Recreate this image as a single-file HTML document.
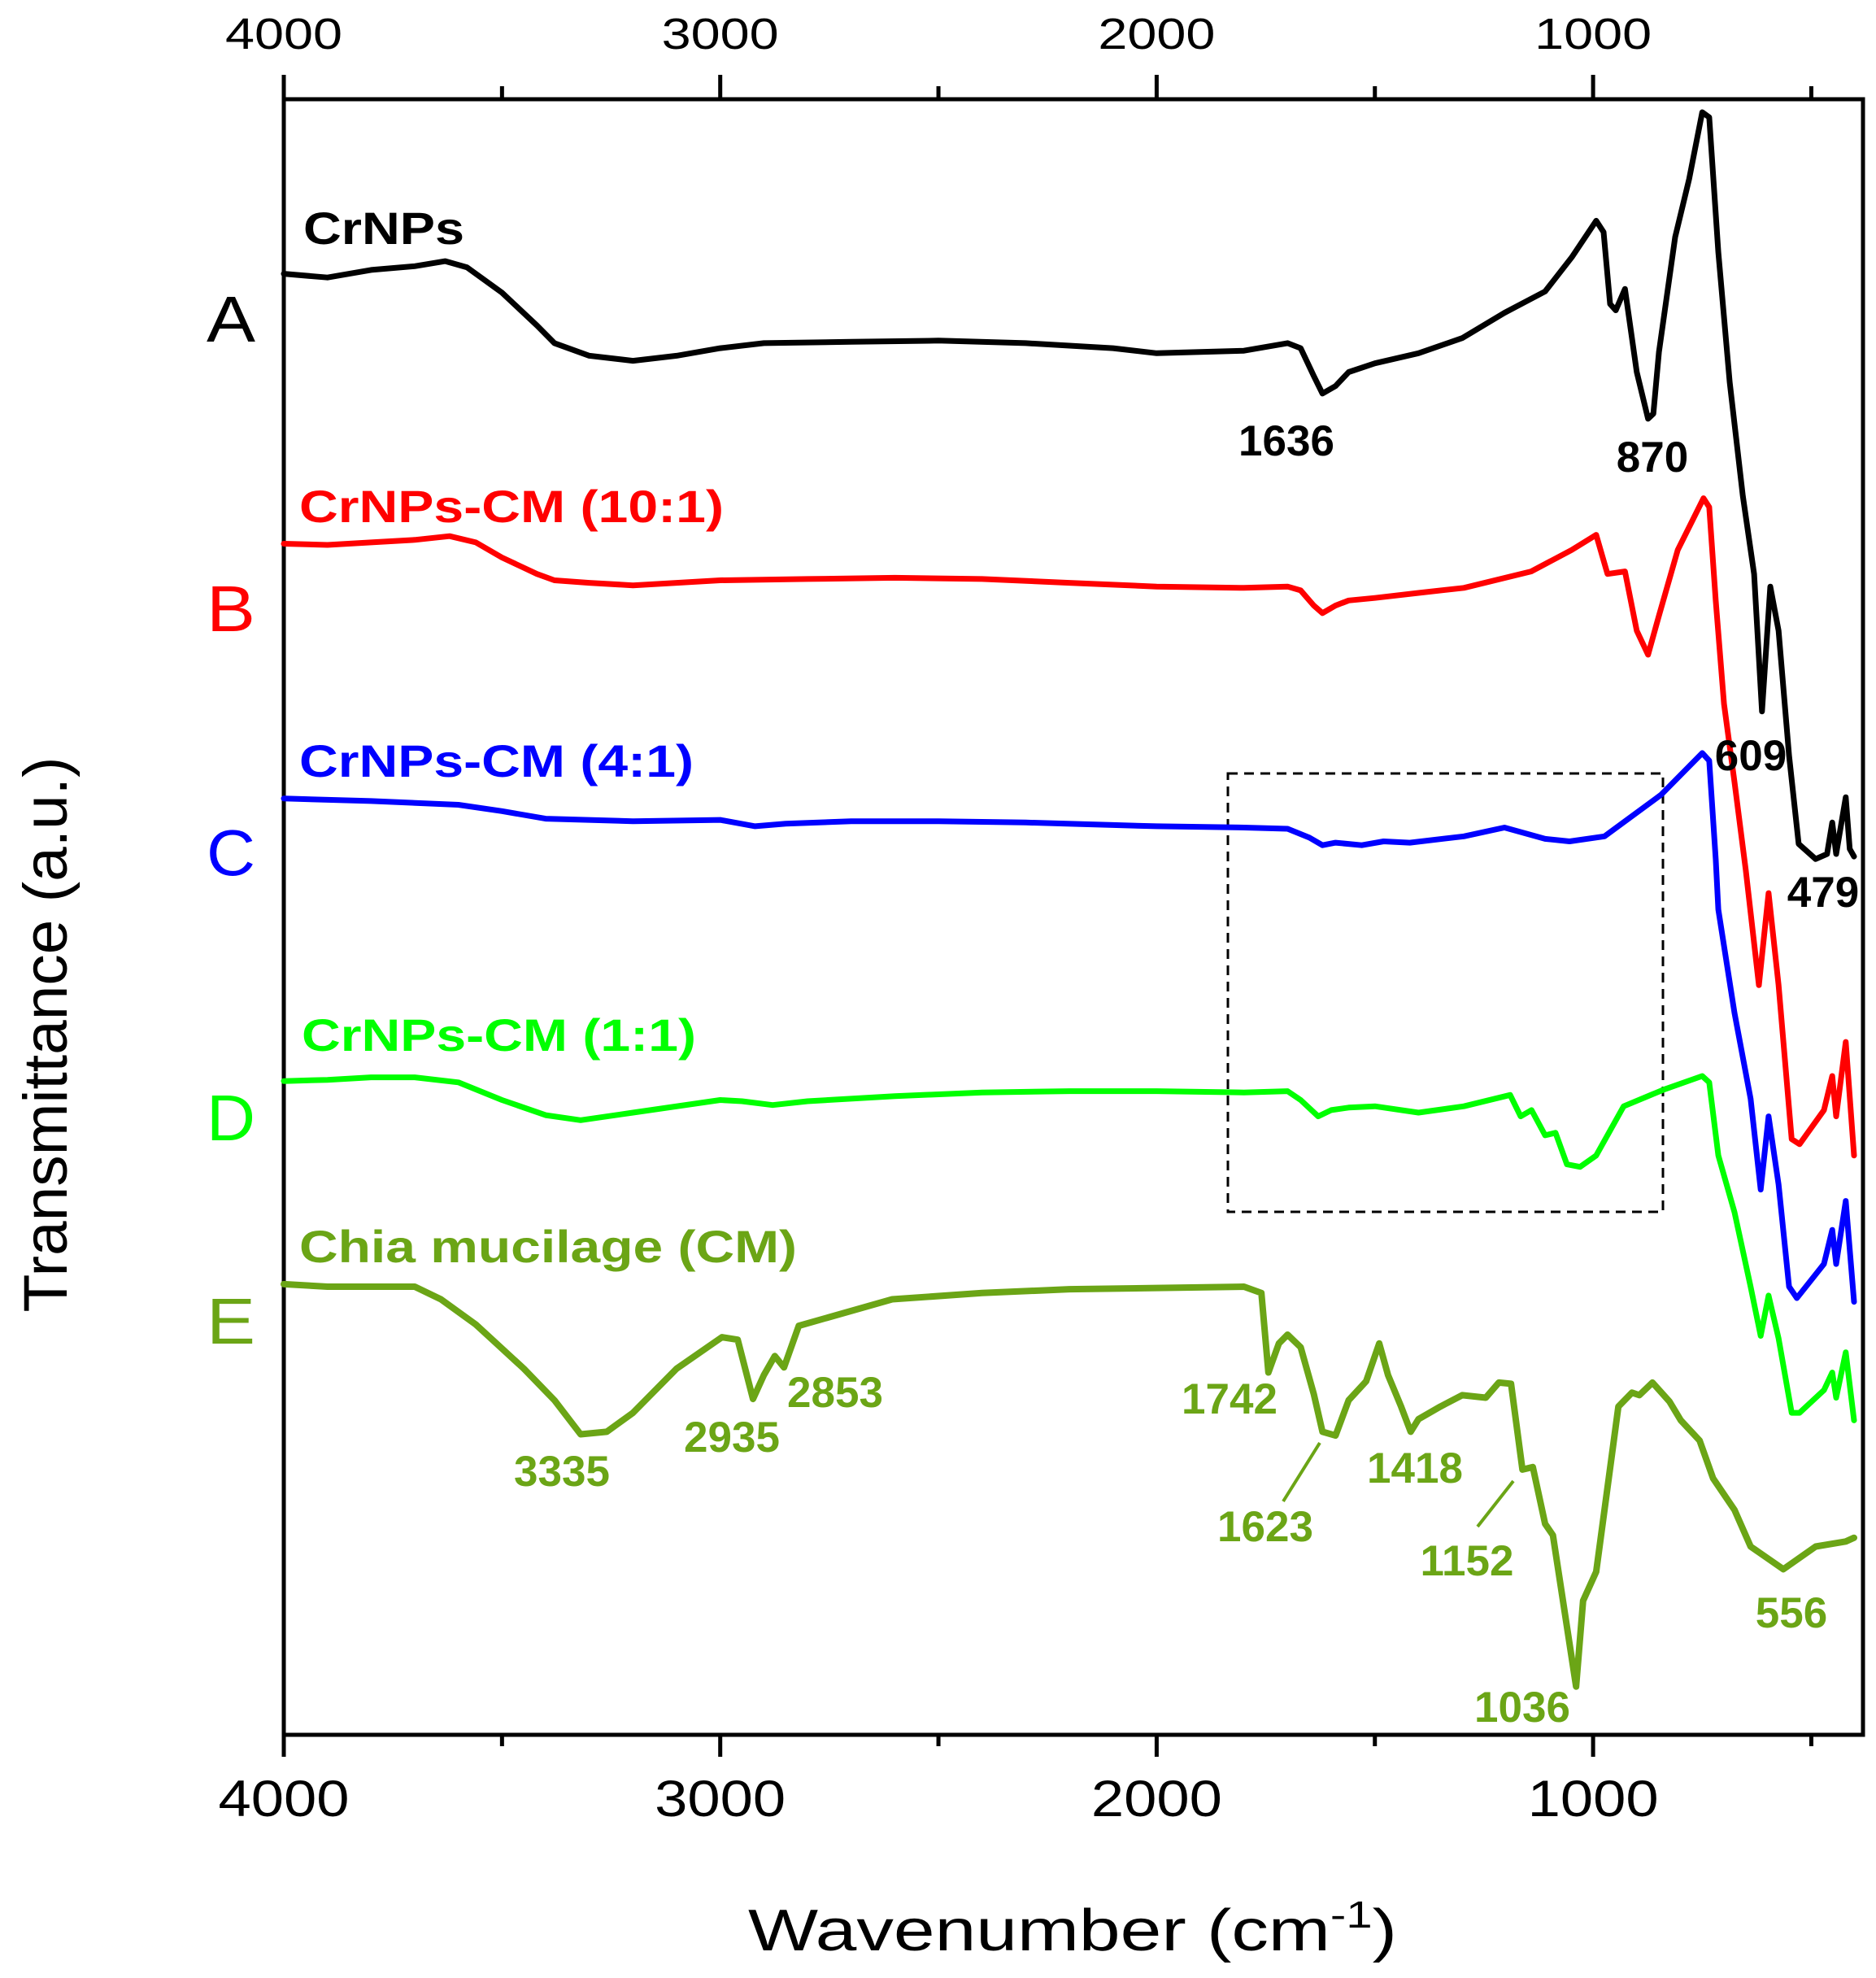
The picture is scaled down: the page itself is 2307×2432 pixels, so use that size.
<!DOCTYPE html>
<html><head><meta charset="utf-8"><style>
html,body{margin:0;padding:0;background:#fff;}
svg{display:block;font-family:"Liberation Sans",Arial,sans-serif;}
</style></head><body>
<svg id="chart" width="2307" height="2432" viewBox="0 0 2307 2432" xmlns="http://www.w3.org/2000/svg">
<rect width="2307" height="2432" fill="#fff"/>
<g id="plot"></g>
</svg>
<script>
const xTicks=[4000,3000,2000,1000];
const xMinor=[3500,2500,1500,500];
const xTickLabels=["4000","3000","2000","1000"];

const wA=[4000,3900,3800,3700,3630,3580,3500,3420,3380,3300,3200,3100,3000,2900,2700,2500,2300,2100,2000,1800,1700,1670,1640,1620,1590,1560,1500,1400,1300,1203,1110,1049,993,976,961,948,927,900,874,862,849,812,780,750,734,713,687,657,631,613,594,575,551,529,490,464,452,443,421,412,402];
const tA=[1183,1180,1186,1189,1193,1188,1168,1142,1128,1118,1114,1118,1124,1128,1129,1130,1128,1124,1120,1122,1128,1124,1102,1088,1094,1105,1112,1120,1132,1152,1169,1196,1225,1216,1159,1154,1171,1105,1068,1072,1121,1212,1258,1311,1307,1200,1097,1007,945,836,935,900,801,731,719,723,748,723,768,727,721];

const wB=[4000,3900,3800,3700,3620,3560,3500,3420,3380,3300,3200,3000,2800,2600,2400,2200,2000,1800,1700,1670,1640,1620,1590,1560,1500,1400,1296,1142,1049,993,967,927,900,874,849,806,747,734,719,700,676,650,620,598,575,545,527,471,452,443,421,402];
const tB=[969,968,970,972,975,970,958,945,940,938,936,940,941,942,941,938,935,934,935,932,920,914,920,924,926,930,934,947,964,976,945,947,900,881,912,964,1005,998,924,842,780,710,619,692,619,497,493,520,547,515,574,484];

const wC=[4000,3800,3600,3500,3400,3200,3000,2920,2850,2700,2500,2300,2100,2000,1800,1700,1650,1620,1590,1530,1480,1420,1296,1203,1110,1054,974,844,750,734,719,713,676,639,616,598,575,551,533,471,452,443,421,402];
const tC=[767,765,762,757,751,749,750,745,747,749,749,748,746,745,744,743,736,730,732,730,733,732,737,744,735,733,737,770,803,797,719,679,597,529,457,515,461,380,371,398,425,398,448,368];

const wD=[4000,3900,3800,3700,3600,3500,3400,3320,3200,3000,2950,2880,2800,2600,2400,2200,2000,1800,1700,1670,1630,1600,1560,1500,1400,1296,1190,1166,1141,1110,1086,1060,1030,993,930,840,750,734,713,676,639,616,598,575,545,527,471,452,443,421,402];
const tD=[543,544,546,546,542,528,516,512,518,528,527,524,527,531,534,535,535,534,535,528,515,520,522,523,518,523,532,515,520,500,502,477,475,484,523,536,547,542,484,439,380,341,373,339,280,280,298,312,292,328,274];

const wE=[4000,3900,3800,3700,3640,3560,3450,3380,3320,3260,3200,3100,2996,2960,2925,2900,2875,2854,2820,2606,2400,2200,2000,1800,1760,1744,1720,1700,1670,1640,1620,1590,1560,1520,1490,1470,1440,1418,1400,1350,1300,1246,1216,1188,1162,1138,1110,1092,1039,1023,993,942,911,894,864,825,799,756,725,676,639,564,490,421,402];
const tE=[382,380,380,380,370,350,315,290,263,265,280,315,340,338,291,310,325,316,349,370,375,378,379,380,375,312,335,342,332,295,265,262,290,305,335,310,285,265,275,285,294,292,304,303,235,237,192,183,63,131,154,285,296,294,304,289,274,258,228,203,174,156,174,178,181];

const NS="http://www.w3.org/2000/svg";
const plot=document.getElementById('plot');
const L=349,R=2291,T=122,B=2133;
function X(w){return L+(4000-w)*0.5367;}
function Y(t){return (1400-t)*1.551;}
function mk(tag,attrs){const e=document.createElementNS(NS,tag);for(const k in attrs)e.setAttribute(k,attrs[k]);plot.appendChild(e);return e;}
function txt(s,x,y,size,fill,weight,anchor,len){
  const e=mk('text',{x:x,y:y,'font-size':size,fill:fill,'font-weight':weight,'text-anchor':anchor});
  if(len){e.setAttribute('textLength',len);e.setAttribute('lengthAdjust','spacingAndGlyphs');}
  e.textContent=s;return e;}

let fr=mk('rect',{x:L,y:T,width:R-L,height:B-T,fill:'none',stroke:'#000','stroke-width':5});



xTicks.forEach((w,i)=>{
  let t1=mk('line',{x1:X(w),x2:X(w),y1:T,y2:T-30,stroke:'#000','stroke-width':5});
  
  
  let t2=mk('line',{x1:X(w),x2:X(w),y1:B,y2:B+27,stroke:'#000','stroke-width':5});
  
  
  let l1=txt(xTickLabels[i],X(w),60,54,'#000','normal','middle',144);
  
  
  let l2=txt(xTickLabels[i],X(w),2233,63,'#000','normal','middle',161);
  
  
});
xMinor.forEach(w=>{
  let t1=mk('line',{x1:X(w),x2:X(w),y1:T,y2:T-16,stroke:'#000','stroke-width':5});
  
  
  let t2=mk('line',{x1:X(w),x2:X(w),y1:B,y2:B+14,stroke:'#000','stroke-width':5});
  
  
});

let box=mk('rect',{x:1510,y:951,width:535,height:539,fill:'none',stroke:'#000','stroke-width':3,'stroke-dasharray':'12,8'});



function series(ws,ts,color,name,sw){
  let d='';ws.forEach((w,i)=>{d+=(i?'L':'M')+X(w).toFixed(1)+','+Y(ts[i]).toFixed(1);});
  const p=mk('path',{d:d,fill:'none',stroke:color,'stroke-width':sw,'stroke-linejoin':'round','stroke-linecap':'round'});
  
  
}
const OL='#6ba516';
series(wA,tA,'#000','series-crnps',7);
series(wB,tB,'#ff0000','series-crnps-cm-10-1',7);
series(wC,tC,'#0000ff','series-crnps-cm-4-1',7);
series(wD,tD,'#00ff00','series-crnps-cm-1-1',7);
series(wE,tE,OL,'series-chia-mucilage',8);

const lab=[["CrNPs",373,300,198,'#000'],["CrNPs-CM (10:1)",368,642,522,'#ff0000'],["CrNPs-CM (4:1)",368,955,485,'#0000ff'],["CrNPs-CM (1:1)",371,1292,485,'#00ff00'],["Chia mucilage (CM)",368,1552,612,OL]];
lab.forEach(a=>{let e=txt(a[0],a[1],a[2],56,a[4],'bold','start',a[3]);
  
  });
const let_=[["A",420,'#000'],["B",776,'#ff0000'],["C",1076,'#0000ff'],["D",1402,'#00ff00'],["E",1652,OL]];
let_.forEach(a=>{let e=txt(a[0],284,a[1],80,a[2],'normal','middle',60);
  
  });

const pk=[["1636",1582,560,'#000'],["870",2032,580,'#000'],["609",2153,947,'#000'],["479",2242,1115,'#000'],
["3335",691,1827,OL],["2935",900,1785,OL],["2853",1027,1730,OL],["1742",1512,1738,OL],["1623",1556,1895,OL],["1418",1740,1823,OL],["1152",1804,1937,OL],["1036",1872,2117,OL],["556",2203,2001,OL]];
pk.forEach(a=>{let e=txt(a[0],a[1],a[2],53,a[3],'bold','middle');
  
  });
let ld1=mk('line',{x1:1623,y1:1774,x2:1578,y2:1846,stroke:OL,'stroke-width':4});


let ld2=mk('line',{x1:1861,y1:1821,x2:1817,y2:1877,stroke:OL,'stroke-width':4});



let yt=txt("Transmittance (a.u.)",0,0,76,'#000','normal','middle',683);
yt.setAttribute('transform','translate(82,1272) rotate(-90)');


let xt=mk('text',{x:1319,y:2398,'font-size':72,'text-anchor':'middle',fill:'#000'});


xt.innerHTML='Wavenumber (cm<tspan dy="-28" font-size="46">-1</tspan><tspan dy="28">)</tspan>';
xt.setAttribute('textLength','798');
xt.setAttribute('lengthAdjust','spacingAndGlyphs');
</script>
</body></html>
